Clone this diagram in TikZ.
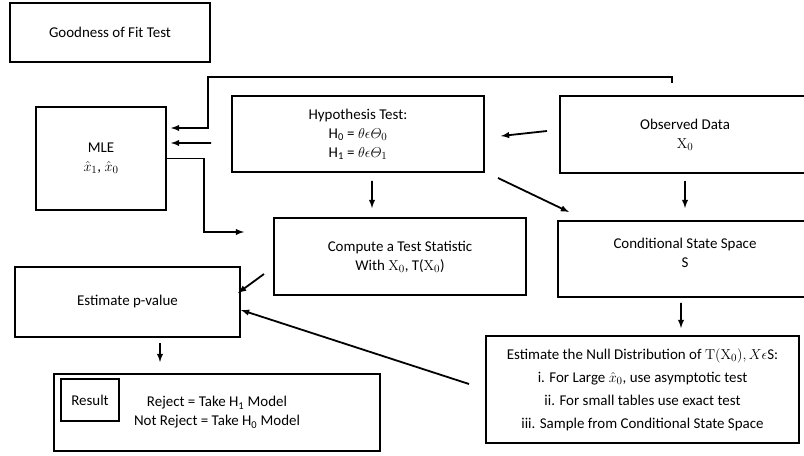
\documentclass[tikz,border=0pt]{standalone}
\usepackage{amsmath}
\usepackage[no-math]{fontspec}
\setmainfont{Carlito}
\usepackage{tikz}

\begin{document}
\begin{tikzpicture}[x=1bp, y=-1bp,
	box/.style={shape=rectangle, draw=black, line width=2bp, align=center, inner sep=0pt, font=\fontsize{15}{19}\selectfont},
	arr/.style={->, >=latex, line width=1.8bp}]
	\useasboundingbox (0,0) rectangle (804,456);
	\clip (0,0) rectangle (804,456);
	\node[box, minimum width=200bp, minimum height=59bp]  (gof)  at (110, 32.5)   {Goodness of Fit Test};
	\node[box, minimum width=130bp, minimum height=103bp] (mle)  at (101, 158.5)  {MLE\\$\hat{x}_1$, $\hat{x}_0$};
	\node[box, minimum width=252bp, minimum height=76bp]  (hyp)  at (358, 134)    {Hypothesis Test:\\H\textsubscript{0} = $\theta\epsilon\varTheta_0$\\H\textsubscript{1} = $\theta\epsilon\varTheta_1$};
	\node[box, minimum width=250bp, minimum height=77bp]  (obs)  at (685, 134.5)  {Observed Data\\$\mathrm{X}_0$};
	\node[box, minimum width=252bp, minimum height=77bp]  (comp) at (400, 256.5)  {Compute a Test Statistic\\With $\mathrm{X}_0$, T($\mathrm{X}_0$)};
	\node[box, minimum width=254bp, minimum height=76bp]  (cond) at (685, 259)    {Conditional State Space\\S\\[-6bp]};
	\node[box, minimum width=225bp, minimum height=70bp]  (pval) at (127.5, 302)  {Estimate p-value};
	\node[box, minimum width=313bp, minimum height=107bp, font=\fontsize{15}{23}\selectfont] (null) at (642.5, 389.5) {Estimate the Null Distribution of $\mathrm{T}(\mathrm{X}_0), X\epsilon$S:\\i. For Large $\hat{x}_0$, use asymptotic test\\ii. For small tables use exact test\\iii. Sample from Conditional State Space};
	\node[box, minimum width=326bp, minimum height=77bp]  (res)  at (217, 412.5)  {Reject = Take H\textsubscript{1} Model\\Not Reject = Take H\textsubscript{0} Model};
	\node[box, minimum width=58bp, minimum height=42bp]   (resl) at (90, 400)     {Result};
	\coordinate (tl) at (208, 77);
	\coordinate (tr) at (672, 77);
	\draw[arr] ([xshift=-13bp,yshift=12bp]obs.north) -- (tr) -- (tl) |- ([xshift=4bp,yshift=30.5bp]mle.east);
	\path[arr] ([xshift=-20bp,yshift=-9bp]hyp.west) edge ([xshift=4bp,yshift=15.5bp]mle.east);
	\draw[arr] (mle.east) -| ([xshift=-69bp,yshift=24.5bp]comp.west) -- ([xshift=-29bp,yshift=24.5bp]comp.west);
	\path[arr] ([xshift=-12bp,yshift=3.5bp]obs.west) edge ([xshift=16bp,yshift=-2bp]hyp.east);
	\path[arr] ([xshift=13bp,yshift=-5bp]hyp.south east) edge ([xshift=12bp,yshift=8bp]cond.north west);
	\path[arr] ([xshift=14bp,yshift=-8bp]hyp.south) edge ([xshift=-28bp,yshift=9bp]comp.north);
	\path[arr] ([yshift=-7bp]obs.south) edge ([yshift=12bp]cond.north);
	\path[arr] ([xshift=-9bp,yshift=-17.5bp]comp.west) edge ([xshift=-3bp,yshift=9bp]pval.east);
	\path[arr] ([xshift=-16bp,yshift=5.5bp]null.west) edge ([yshift=-8bp]pval.east);
	\path[arr] ([xshift=32.5bp,yshift=-5bp]pval.south) edge ([xshift=-57bp,yshift=11bp]res.north);
	\path[arr] ([xshift=-4bp,yshift=-5bp]cond.south) edge ([xshift=38.5bp,yshift=7bp]null.north);
\end{tikzpicture}
\end{document}
